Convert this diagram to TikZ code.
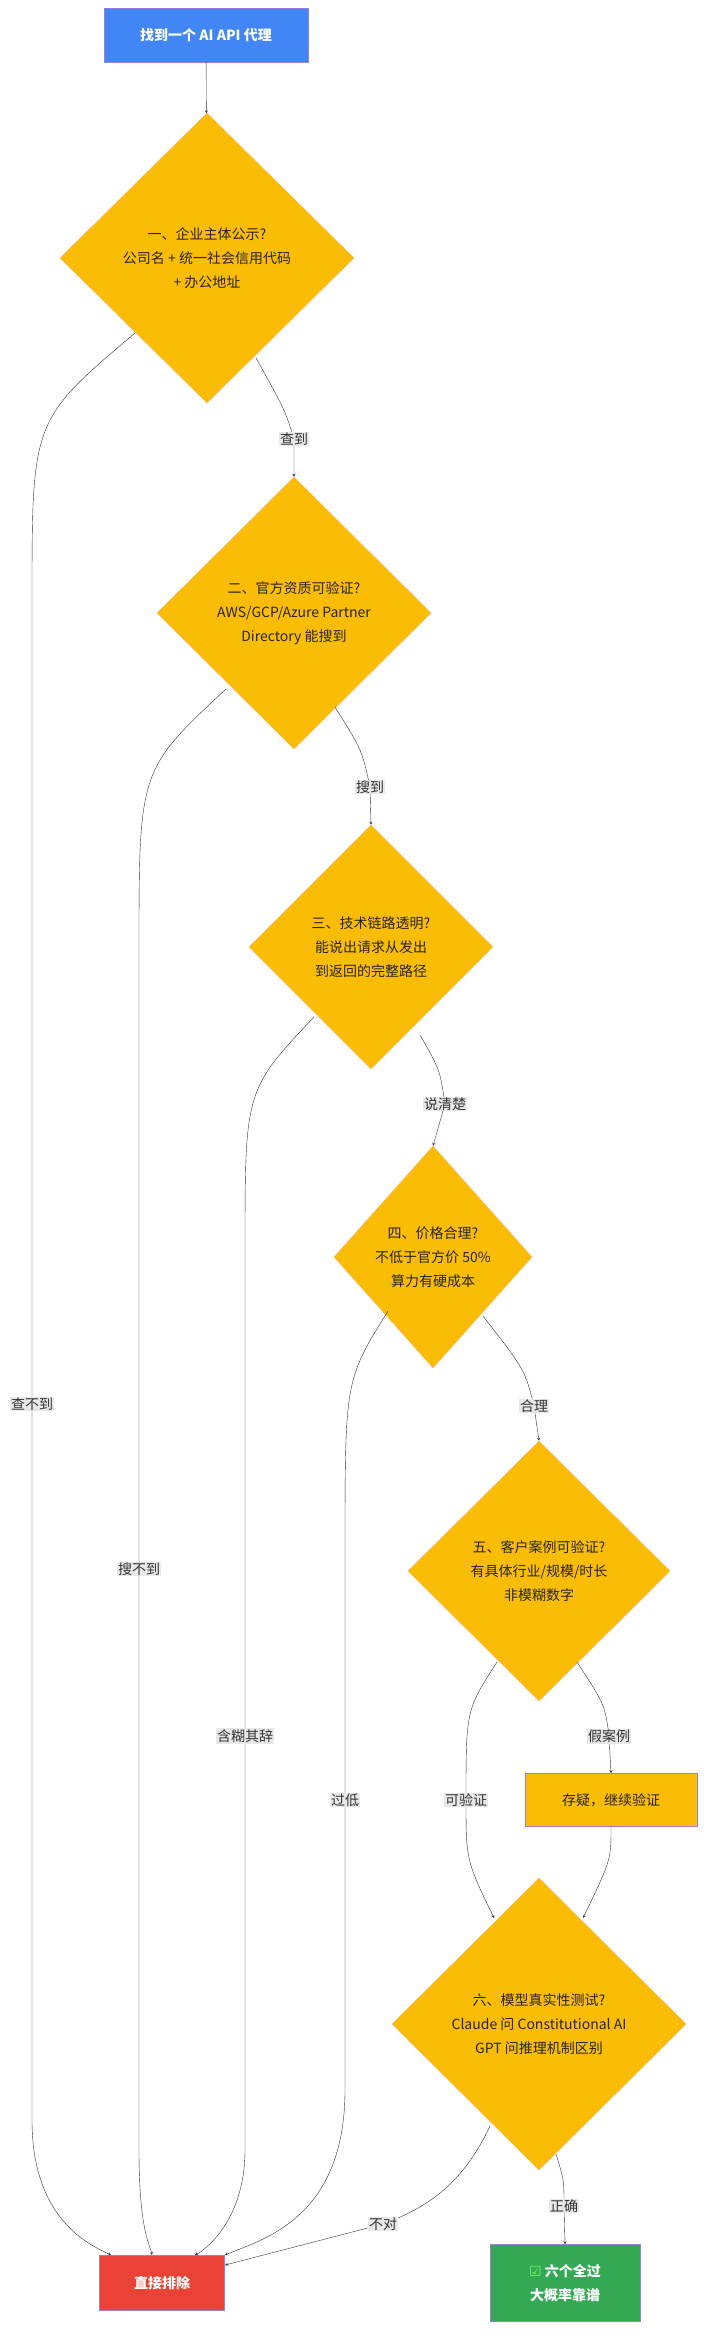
\documentclass[tikz,border=0pt]{standalone}
\usepackage{fontspec}
\setmainfont{Noto Sans CJK SC}
\usetikzlibrary{shapes.geometric, positioning, arrows}

\definecolor{gyellow}{HTML}{FBBC05}
\definecolor{gblue}{HTML}{4285F4}
\definecolor{gred}{HTML}{EA4335}
\definecolor{ggreen}{HTML}{34A853}
\definecolor{rim}{HTML}{9A7FD6}
\definecolor{tagbg}{HTML}{E8E8E8}

\begin{document}
\begin{tikzpicture}[
    x = 1pt, y = -1pt,
    > = stealth,
    font = \fontsize{14}{24}\selectfont
]

% Setup the styles for the nodes
\tikzstyle{check}=[diamond, draw=orange!60, fill=gyellow, inner sep=0pt, align=center, text=black!85]
\tikzstyle{startbox}=[draw=rim, fill=gblue, text=white, minimum width=204pt, minimum height=54pt]
\tikzstyle{holdbox}=[draw=rim, fill=gyellow, minimum width=172pt, minimum height=53pt, text=black!85]
\tikzstyle{dropbox}=[draw=rim, fill=gred, text=white, minimum width=125pt, minimum height=55pt]
\tikzstyle{passbox}=[draw=rim, fill=ggreen, text=white, minimum width=150pt, minimum height=77pt, align=center]
\tikzstyle{tag}=[fill=tagbg, inner sep=1pt, text=black!80]
\tikzstyle{flow}=[draw=black!80, thin, ->]

\useasboundingbox (0,0) rectangle (707,2352);

% Draw the nodes
\node[startbox] (start) at (206,35) {\bfseries 找到一个 AI API 代理};
\node[check, minimum width=294pt, minimum height=290pt] (d1) at (207,258)
    {一、企业主体公示?\\公司名 + 统一社会信用代码\\+ 办公地址};
\node[check, minimum width=274pt, minimum height=272pt] (d2) at (294,613)
    {二、官方资质可验证?\\AWS/GCP/Azure Partner\\Directory 能搜到};
\node[check, minimum width=244pt, minimum height=244pt] (d3) at (371,947)
    {三、技术链路透明?\\能说出请求从发出\\到返回的完整路径};
\node[check, minimum width=198pt, minimum height=222pt] (d4) at (433,1257)
    {四、价格合理?\\不低于官方价 50\%\\算力有硬成本};
\node[check, minimum width=262pt, minimum height=260pt] (d5) at (539,1571)
    {五、客户案例可验证?\\有具体行业/规模/时长\\非模糊数字};
\node[holdbox] (hold) at (611,1800) {存疑，继续验证};
\node[check, minimum width=294pt, minimum height=292pt] (d6) at (539,2024)
    {六、模型真实性测试?\\Claude 问 Constitutional AI\\GPT 问推理机制区别};
\node[dropbox] (drop) at (162,2283) {\bfseries 直接排除};
\node[passbox] (pass) at (565,2283)
    {\bfseries{\fontspec{DejaVu Sans}\color{green!60!white}☑} 六个全过\\\bfseries 大概率靠谱};

% Exit points on the diamonds
\coordinate (d1r) at (256,358);  \coordinate (d1l) at (135,333);
\coordinate (d2r) at (335,707);  \coordinate (d2l) at (226,689);
\coordinate (d3r) at (420,1035); \coordinate (d3l) at (314,1017);
\coordinate (d4r) at (483,1316); \coordinate (d4l) at (388,1311);
\coordinate (d5r) at (577,1662); \coordinate (d5l) at (497,1662);
\coordinate (d6r) at (556,2154); \coordinate (d6l) at (490,2126);

% Passing transitions
\draw[flow] (start) -- (d1);
\draw[flow] (d1r) .. controls (285,410) .. (294,439) node[tag]{查到} -- (d2.north);
\draw[flow] (d2r) .. controls (362,750) .. (370,787) node[tag]{搜到} -- (d3.north);
\draw[flow] (d3r) .. controls (440,1070) .. (445,1104) node[tag]{说清楚} -- (d4.north);
\draw[flow] (d4r) .. controls (525,1370) .. (534,1406) node[tag]{合理} -- (d5.north);
\draw[flow] (d5r) .. controls (605,1705) .. (609,1736) node[tag]{假案例} -- (hold.north);
\draw[flow] (d5l) .. controls (466,1710) .. (466,1800) node[tag]{可验证}
    .. controls (466,1860) .. (494,1918);
\draw[flow] (hold.south) .. controls (611,1860) .. (583,1918);
\draw[flow] (d6r) .. controls (564,2180) .. (564,2206) node[tag]{正确} -- (pass.north);

% Failing transitions
\draw[flow] (d1l) .. controls (32,420) .. (32,600) -- (32,1404) node[tag]{查不到}
    -- (32,2120) .. controls (32,2220) and (90,2245) .. (111,2255);
\draw[flow] (d2l) .. controls (139,770) .. (139,950) -- (139,1569) node[tag]{搜不到}
    -- (139,2150) .. controls (139,2230) and (150,2245) .. (152,2255);
\draw[flow] (d3l) .. controls (245,1090) .. (245,1250) -- (245,1736) node[tag]{含糊其辞}
    -- (245,2150) .. controls (245,2220) and (205,2250) .. (195,2255);
\draw[flow] (d4l) .. controls (345,1380) .. (345,1550) -- (345,1800) node[tag]{过低}
    -- (345,2090) .. controls (345,2220) and (260,2240) .. (225,2255);
\draw[flow] (d6l) .. controls (460,2190) and (420,2210) .. (383,2224) node[tag]{不对}
    -- (225,2265);
\end{tikzpicture}
\end{document}
